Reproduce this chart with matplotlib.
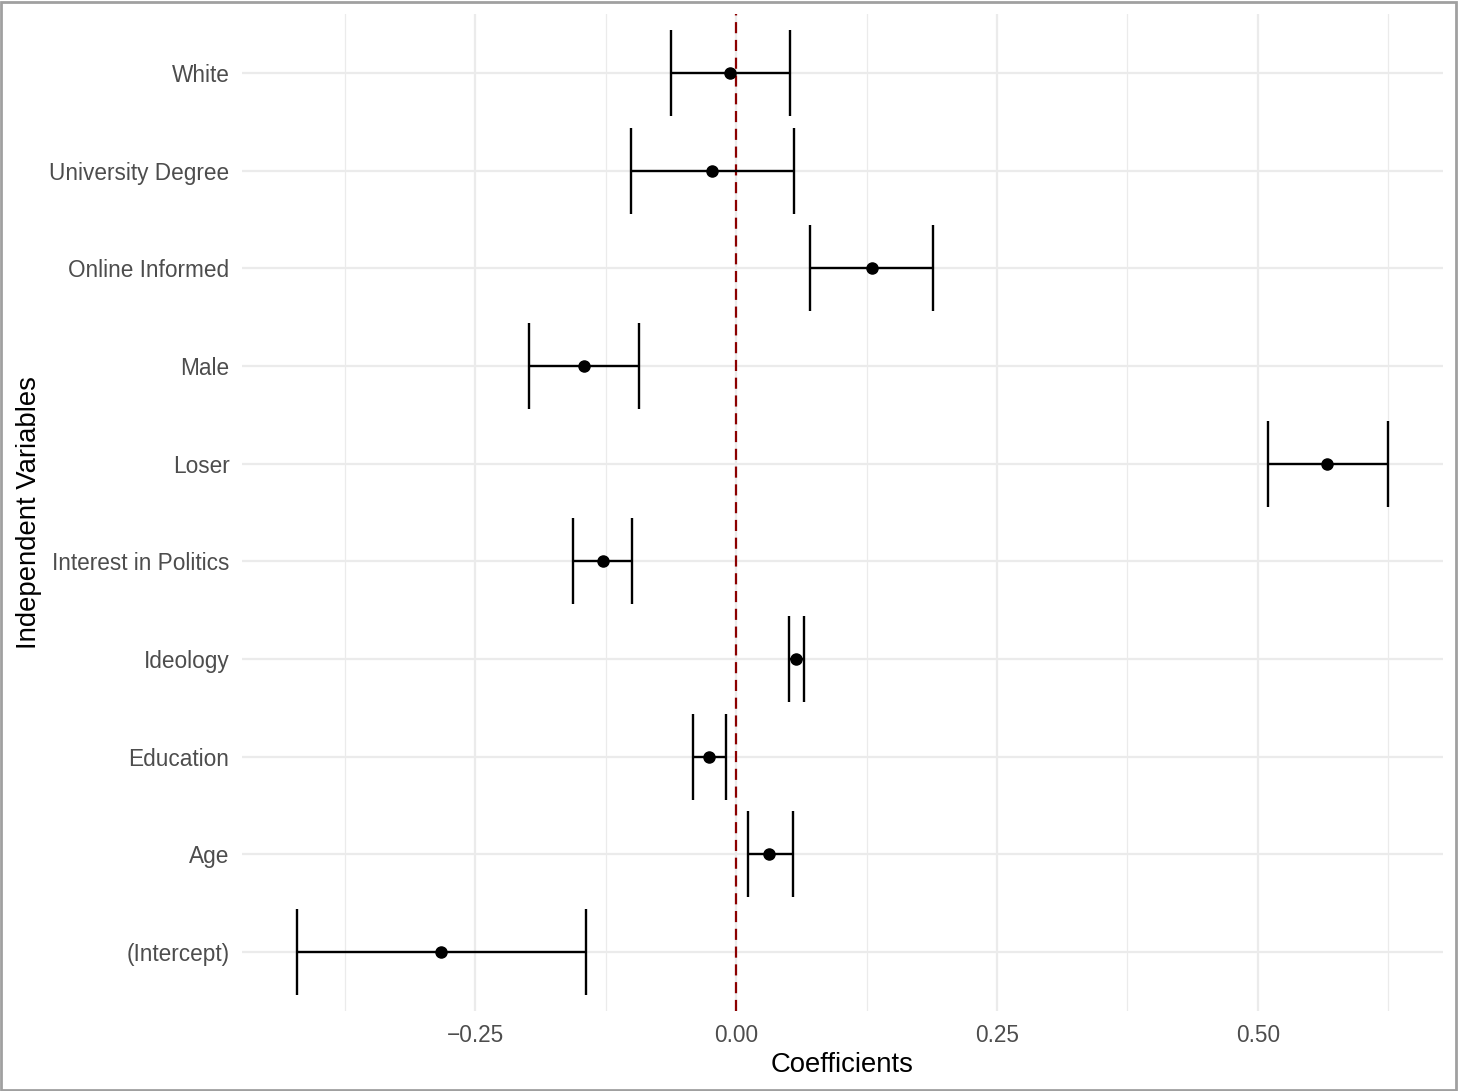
import matplotlib
matplotlib.use("Agg")
import matplotlib.pyplot as plt
from matplotlib.patches import Rectangle
from matplotlib.ticker import FixedLocator

# Data (bottom to top as drawn)
variables = ["(Intercept)", "Age", "Education", "Ideology", "Interest in Politics",
             "Loser", "Male", "Online Informed", "University Degree", "White"]
estimates = [-0.283, 0.032, -0.026, 0.057, -0.127, 0.566, -0.146, 0.130, -0.023, -0.006]
ci_low = [-0.421, 0.011, -0.041, 0.051, -0.156, 0.510, -0.198, 0.071, -0.101, -0.062]
ci_high = [-0.144, 0.055, -0.010, 0.065, -0.100, 0.625, -0.093, 0.189, 0.056, 0.052]
x_ticks = [-0.25, 0.00, 0.25, 0.50]
x_tick_labels = ["\u22120.25", "0.00", "0.25", "0.50"]

plt.rcParams['font.family'] = ['Liberation Sans', 'DejaVu Sans']

W, H = 1459, 1091
fig = plt.figure(figsize=(W / 100, H / 100), dpi=100)
left, right = 242 / W, 1443 / W
top, bottom = 1 - 14.4 / H, 1 - 1010.6 / H
ax = fig.add_axes([left, bottom, right - left, top - bottom])

ypos = list(range(len(variables)))

# grid
ax.set_axisbelow(True)
ax.xaxis.set_major_locator(FixedLocator(x_ticks))
ax.xaxis.set_minor_locator(FixedLocator([-0.375, -0.125, 0.125, 0.375, 0.625]))
ax.grid(which='major', axis='both', color='#EBEBEB', linewidth=1.6)
ax.grid(which='minor', axis='x', color='#EBEBEB', linewidth=0.9)

# zero line
ax.axvline(0, color='#8B0000', linewidth=1.6, linestyle=(0, (5, 3)), zorder=3)

# error bars
lw = 1.7
cap_half = 0.44
for y, lo, hi in zip(ypos, ci_low, ci_high):
    ax.plot([lo, hi], [y, y], color='black', linewidth=lw, solid_capstyle='butt', zorder=4)
    ax.plot([lo, lo], [y - cap_half, y + cap_half], color='black', linewidth=lw, solid_capstyle='butt', zorder=4)
    ax.plot([hi, hi], [y - cap_half, y + cap_half], color='black', linewidth=lw, solid_capstyle='butt', zorder=4)
ax.plot(estimates, ypos, 'o', color='black', markersize=8, zorder=5)

# limits (ggplot expansion)
lo_all, hi_all = min(ci_low), max(ci_high)
span = hi_all - lo_all
ax.set_xlim(lo_all - 0.05 * span, hi_all + 0.05 * span)
ax.set_ylim(-0.6, len(variables) - 1 + 0.6)

ax.set_yticks(ypos)
ax.set_yticklabels(variables)
ax.set_xticklabels(x_tick_labels)

ax.tick_params(axis='both', which='both', length=0, colors='#4D4D4D', labelsize=16.3)
ax.tick_params(axis='y', pad=9)
ax.tick_params(axis='x', pad=10)

for s in ax.spines.values():
    s.set_visible(False)

ax.set_xlabel("Coefficients", fontsize=19.8, color='black', labelpad=3)
ax.set_ylabel("Independent Variables", fontsize=19.8, color='black', labelpad=5)

# outer frame of the screenshot
fig.patches.append(Rectangle((0.001, 0.001), 0.997, 0.997, transform=fig.transFigure,
                             fill=False, edgecolor='#A0A0A0', linewidth=2))

fig.savefig("out.png", dpi=100)
